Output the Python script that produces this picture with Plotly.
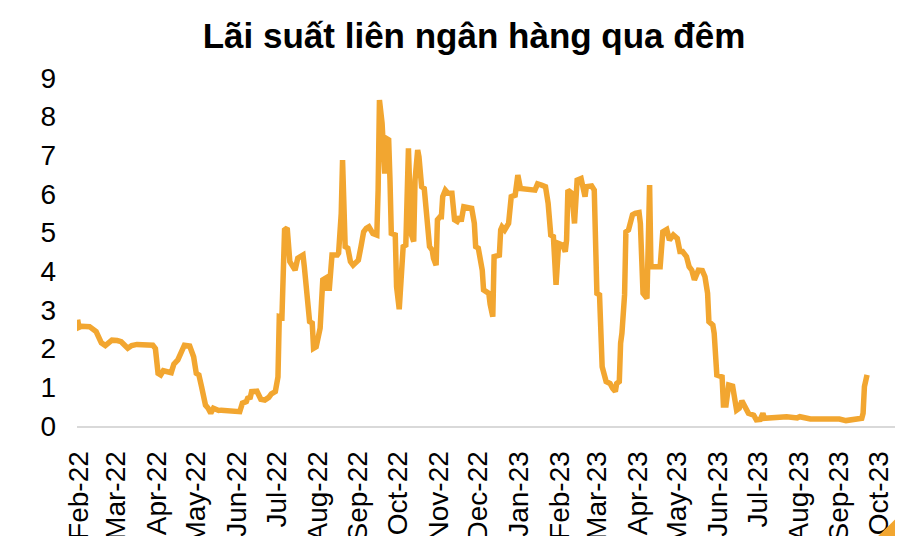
import pandas as pd
import plotly.graph_objects as go

# ---- data (day offset from 2022-02-01, overnight rate %) ----
START = "2022-02-01"
day_offsets = [
    -1, 0, 2, 8, 13, 17, 20, 25, 29, 32, 37, 40, 44, 50, 56, 58, 60, 62, 64, 70,
    72, 75, 78, 80, 84, 87, 89, 91, 93, 96, 98, 100, 102, 106, 108, 116, 122, 124, 127, 128,
    130, 131, 135, 138, 141, 144, 146, 149, 151, 152, 154, 156, 158, 160, 164, 166, 170, 171, 173, 175,
    177, 178, 180, 182, 183, 185, 187, 188, 190, 192, 196, 197, 199, 200, 202, 204, 206, 208, 210, 212,
    214, 216, 218, 220, 223, 226, 227, 228, 230, 231, 232, 233, 235, 236, 237, 240, 241, 243, 245, 246,
    248, 249, 250, 252, 254, 255, 257, 258, 260, 262, 264, 266, 268, 269, 271, 272, 274, 275, 276, 278,
    280, 283, 285, 287, 289, 290, 292, 294, 298, 300, 301, 303, 306, 307, 311, 312, 314, 315, 319, 320,
    321, 323, 326, 328, 331, 333, 335, 346, 348, 351, 354, 356, 358, 360, 362, 364, 367, 369, 370, 371,
    374, 376, 378, 381, 383, 384, 385, 389, 391, 393, 395, 397, 400, 403, 405, 407, 408, 410, 411, 412,
    414, 415, 417, 418, 420, 422, 425, 426, 428, 431, 433, 434, 441, 443, 446, 448, 451, 454, 456, 458,
    461, 463, 465, 467, 470, 473, 475, 477, 478, 481, 482, 484, 488, 489, 491, 493, 496, 499, 501, 503,
    505, 508, 512, 514, 517, 519, 520, 527, 532, 537, 545, 547, 555, 565, 570, 577, 582, 587, 594, 595,
    596, 598,
]
rates = [
    2.75, 2.55, 2.58, 2.57, 2.44, 2.15, 2.08, 2.22, 2.21, 2.18, 2.01, 2.08, 2.11, 2.11, 2.09, 2.00, 1.36, 1.32, 1.43, 1.38,
    1.60, 1.71, 1.92, 2.09, 2.07, 1.79, 1.36, 1.32, 1.02, 0.54, 0.46, 0.33, 0.46, 0.40, 0.41, 0.37, 0.37, 0.59, 0.63, 0.72,
    0.74, 0.89, 0.90, 0.69, 0.67, 0.74, 0.83, 0.89, 1.27, 2.83, 2.81, 5.07, 5.12, 4.25, 4.03, 4.34, 4.42, 4.12, 3.26, 2.70,
    2.66, 2.01, 2.05, 2.48, 2.53, 3.78, 3.82, 3.56, 3.56, 4.42, 4.42, 4.47, 5.50, 6.88, 4.64, 4.60, 4.25, 4.16, 4.25, 4.29,
    4.64, 5.02, 5.11, 5.15, 4.98, 4.94, 6.10, 8.43, 7.83, 6.53, 6.53, 7.44, 7.40, 6.36, 4.98, 4.94, 3.60, 3.02, 4.47, 4.64,
    4.68, 7.14, 7.18, 4.98, 4.77, 6.36, 7.14, 6.96, 6.19, 6.14, 5.41, 4.64, 4.55, 4.34, 4.16, 5.33, 5.41, 5.41, 5.93, 6.10,
    6.02, 6.02, 5.33, 5.29, 5.41, 5.29, 5.67, 5.65, 5.63, 5.24, 4.64, 4.60, 4.03, 3.52, 3.43, 3.15, 2.83, 4.38, 4.42, 5.07,
    5.15, 5.07, 5.24, 5.93, 5.97, 6.49, 6.14, 6.10, 6.26, 6.23, 6.19, 5.76, 4.94, 4.90, 3.65, 4.72, 4.68, 4.51, 4.81, 6.10,
    6.02, 5.24, 6.36, 6.40, 5.97, 5.93, 6.19, 6.21, 6.10, 3.43, 3.39, 1.53, 1.15, 1.10, 0.97, 0.89, 1.10, 1.15, 2.14, 2.40,
    3.39, 5.02, 5.07, 5.20, 5.46, 5.50, 5.52, 5.24, 3.43, 3.30, 6.23, 4.12, 4.12, 5.02, 5.08, 4.81, 4.94, 4.85, 4.51, 4.51,
    4.38, 4.12, 4.03, 3.78, 4.03, 4.02, 3.86, 3.43, 2.70, 2.61, 2.40, 1.32, 1.27, 0.54, 0.54, 1.06, 1.03, 0.41, 0.46, 0.65,
    0.54, 0.33, 0.28, 0.16, 0.17, 0.33, 0.20, 0.22, 0.20, 0.24, 0.21, 0.24, 0.18, 0.18, 0.20, 0.18, 0.14, 0.17, 0.20, 0.33,
    1.02, 1.32,
]
title_text = "Lãi suất liên ngân hàng qua đêm"
y_ticks = [0, 1, 2, 3, 4, 5, 6, 7, 8, 9]
x_range_days = [-1.5, 623]  # visible span, days from START

ORANGE = "#F2A630"
FONT = "Liberation Sans, Arial, sans-serif"

start = pd.Timestamp(START)
dates = start + pd.to_timedelta(day_offsets, unit="D")
x_range = [start + pd.to_timedelta(d, unit="D") for d in x_range_days]

fig = go.Figure()
fig.add_trace(go.Scatter(
    x=dates, y=rates, mode="lines",
    line=dict(color=ORANGE, width=5.5),
    hoverinfo="skip", showlegend=False,
))

# the page body adds an 8px offset; layout is expressed in screen pixels minus it
OFF = 8
W, H = 903, 536
ML = 77 - OFF
MT = 78 - OFF
MR = W - (900 - OFF)
MB = H - (426 - OFF)

fig.update_layout(
    width=W, height=H,
    margin=dict(l=ML, r=MR, t=MT, b=MB, autoexpand=False),
    paper_bgcolor="white", plot_bgcolor="white",
    font=dict(family=FONT, color="black", size=28),
    title=dict(
        text="<b>" + title_text + "</b>",
        font=dict(family=FONT, size=35, color="black"),
        x=(474 - OFF) / W, xanchor="center", xref="container",
        y=1 - (36 - OFF) / H, yanchor="middle", yref="container",
    ),
    showlegend=False,
)
fig.update_xaxes(
    type="date", range=x_range,
    tick0=START, dtick="M1", tickformat="%b-%y",
    tickangle=-90, ticks="", ticklabelstandoff=12,
    showgrid=False, zeroline=False,
    showline=True, linecolor="#D9D9D9", linewidth=2,
    tickfont=dict(family=FONT, size=28, color="black"),
    automargin=False,
)
fig.update_yaxes(
    range=[0, 9], tickvals=y_ticks, ticks="", ticklabelstandoff=20,
    showgrid=False, zeroline=False, showline=False,
    tickfont=dict(family=FONT, size=28, color="black"),
    automargin=False,
)

# orange corner triangle decoration (bottom-right)
pw = W - ML - MR
ph = H - MT - MB
def px2paper(px, py):
    return (px - OFF - ML) / pw, (H - MB - (py - OFF)) / ph
p1 = px2paper(872, 542)
p2 = px2paper(910, 542)
p3 = px2paper(910, 505)
fig.add_shape(
    type="path", xref="paper", yref="paper",
    path=f"M {p1[0]},{p1[1]} L {p2[0]},{p2[1]} L {p3[0]},{p3[1]} Z",
    fillcolor=ORANGE, line=dict(width=0), layer="above",
)

fig.write_html("out.html")
